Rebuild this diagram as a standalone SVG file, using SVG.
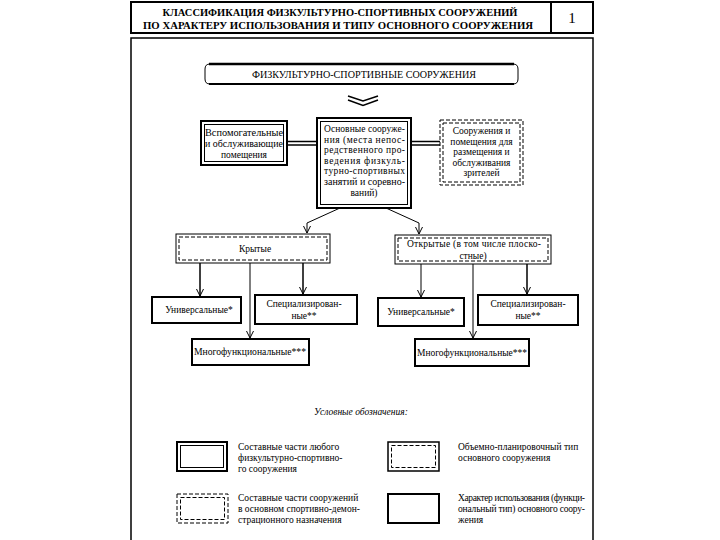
<svg xmlns="http://www.w3.org/2000/svg" width="720" height="540" viewBox="0 0 720 540">
<style>
.t{font-family:"Liberation Serif","Times New Roman",serif;font-size:9.5px;fill:#000}
.c{text-anchor:middle}
.b{font-weight:bold;font-size:10.5px}
.th{fill:none;stroke:#000;stroke-width:2}
.tn{fill:none;stroke:#000;stroke-width:1}
.md{fill:none;stroke:#000;stroke-width:1.5}
.d{stroke-dasharray:4 2}
</style>
<defs>
<marker id="ah" markerWidth="10" markerHeight="10" refX="8" refY="4" orient="auto" markerUnits="userSpaceOnUse">
<path d="M1,0.5 L8,4 L1,7.5" fill="none" stroke="#000" stroke-width="1"/>
</marker>
</defs>
<rect width="720" height="540" fill="#fff"/>

<g id="title">
<rect x="131" y="2" width="462" height="31" class="th"/>
<line x1="551" y1="2" x2="551" y2="33" class="th"/>
<text x="340" y="16" class="t c b" textLength="355" lengthAdjust="spacingAndGlyphs">КЛАССИФИКАЦИЯ ФИЗКУЛЬТУРНО-СПОРТИВНЫХ СООРУЖЕНИЙ</text>
<text x="338" y="29" class="t c b" textLength="390" lengthAdjust="spacingAndGlyphs">ПО ХАРАКТЕРУ ИСПОЛЬЗОВАНИЯ И ТИПУ ОСНОВНОГО СООРУЖЕНИЯ</text>
<text x="572" y="23" class="t c" style="font-size:15px">1</text>
</g>

<rect id="frame" x="131" y="38" width="462" height="510" class="md"/>

<g id="n-top">
<path d="M210,64 L513,64 Q518,64 518,69 L518,79 Q518,84 513,84 L210,84 Q205,84 205,79 L205,69 Q205,64 210,64 Z" class="tn"/>
<line x1="209" y1="64" x2="514" y2="64" stroke="#000" stroke-width="2.5"/>
<line x1="209" y1="84" x2="514" y2="84" stroke="#000" stroke-width="2"/>
<text x="364" y="77.5" class="t c" textLength="224" lengthAdjust="spacingAndGlyphs">ФИЗКУЛЬТУРНО-СПОРТИВНЫЕ СООРУЖЕНИЯ</text>
</g>

<g id="chevron">
<polyline points="348,96 363,101 378,96" class="md"/>
<polyline points="348,100 363,105.5 378,100" class="md"/>
</g>

<g id="n-aux">
<rect x="201" y="121" width="86" height="44" class="th"/>
<rect x="204.5" y="124.5" width="79" height="37" class="tn"/>
<text x="244" y="136" class="t c" textLength="78" lengthAdjust="spacingAndGlyphs">Вспомогательные</text>
<text x="244" y="147" class="t c" textLength="78" lengthAdjust="spacingAndGlyphs">и обслуживающие</text>
<text x="244" y="158" class="t c">помещения</text>
</g>

<g id="n-main">
<rect x="317" y="118" width="94" height="90" class="th"/>
<rect x="320.5" y="121.5" width="87" height="83" class="tn"/>
<text x="324" y="132" class="t" textLength="81" lengthAdjust="spacing">Основные сооруже-</text>
<text x="324" y="142.5" class="t" textLength="81" lengthAdjust="spacing">ния (места непос-</text>
<text x="324" y="153" class="t" textLength="81" lengthAdjust="spacing">редственного про-</text>
<text x="324" y="163.5" class="t" textLength="81" lengthAdjust="spacing">ведения физкуль-</text>
<text x="324" y="174" class="t" textLength="81" lengthAdjust="spacing">турно-спортивных</text>
<text x="324" y="184.5" class="t" textLength="81" lengthAdjust="spacingAndGlyphs">занятий и соревно-</text>
<text x="364" y="196" class="t c">ваний)</text>
</g>

<g id="n-spect">
<rect x="440" y="120" width="83" height="65" class="tn d" stroke-width="1.2"/>
<rect x="443" y="123" width="77" height="59" class="tn d" stroke-width="0.7"/>
<text x="481.5" y="134" class="t c">Сооружения и</text>
<text x="481.5" y="144.5" class="t c">помещения для</text>
<text x="481.5" y="155" class="t c">размещения и</text>
<text x="481.5" y="165.5" class="t c">обслуживания</text>
<text x="481.5" y="176" class="t c">зрителей</text>
</g>

<g id="n-covered">
<rect x="176" y="234" width="154" height="29" class="tn" stroke-width="1.2"/>
<rect x="179" y="237" width="148" height="23" class="tn d" stroke-width="0.8"/>
<text x="255" y="252" class="t c">Крытые</text>
</g>

<g id="n-open">
<rect x="395" y="235" width="156" height="29" class="tn" stroke-width="1.2"/>
<rect x="398" y="238" width="150" height="23" class="tn d" stroke-width="0.8"/>
<text x="474" y="247" class="t c" textLength="134" lengthAdjust="spacing">Открытые (в том числе плоско-</text>
<text x="473" y="259" class="t c">стные)</text>
</g>

<g id="n-univ-l">
<rect x="152" y="297" width="89" height="26" class="th"/>
<text x="199" y="313" class="t c">Универсальные*</text>
</g>
<g id="n-spec-l">
<rect x="255" y="295" width="102" height="29" class="th"/>
<text x="304" y="307" class="t c">Специализирован-</text>
<text x="304" y="319" class="t c">ные**</text>
</g>
<g id="n-multi-l">
<rect x="192" y="339" width="117" height="26" class="th"/>
<text x="250" y="355" class="t c" textLength="112" lengthAdjust="spacingAndGlyphs">Многофункциональные***</text>
</g>

<g id="n-univ-r">
<rect x="378" y="298" width="86" height="28" class="th"/>
<text x="421" y="315" class="t c">Универсальные*</text>
</g>
<g id="n-spec-r">
<rect x="478" y="295" width="100" height="30" class="th"/>
<text x="528" y="307" class="t c">Специализирован-</text>
<text x="528" y="319" class="t c">ные**</text>
</g>
<g id="n-multi-r">
<rect x="415" y="339" width="114" height="27" class="th"/>
<text x="472" y="356" class="t c" textLength="110" lengthAdjust="spacingAndGlyphs">Многофункциональные***</text>
</g>

<g id="connectors">
<line x1="287" y1="141.5" x2="317" y2="141.5" class="md"/>
<line x1="287" y1="145" x2="317" y2="145" class="md"/>
<line x1="411" y1="141.5" x2="440" y2="141.5" class="md"/>
<line x1="411" y1="145" x2="440" y2="145" class="md"/>
<polyline points="340,208 307,223 307,233" class="tn" marker-end="url(#ah)"/>
<polyline points="386,208 419,223 419,234" class="tn" marker-end="url(#ah)"/>
<line x1="200" y1="263" x2="200" y2="296" class="md" marker-end="url(#ah)"/>
<line x1="303" y1="263" x2="303" y2="294" class="md" marker-end="url(#ah)"/>
<line x1="250" y1="263" x2="250" y2="338" class="tn" marker-end="url(#ah)"/>
<line x1="421" y1="264" x2="421" y2="297" class="tn" marker-end="url(#ah)"/>
<line x1="527" y1="264" x2="527" y2="294" class="md" marker-end="url(#ah)"/>
<line x1="473" y1="264" x2="473" y2="338" class="tn" marker-end="url(#ah)"/>
</g>

<g id="legend">
<text x="361" y="415" class="t c" style="font-style:italic">Условные обозначения:</text>
<rect x="177" y="442" width="50" height="29" class="th"/>
<rect x="180.5" y="445.5" width="43" height="22" class="tn"/>
<text x="238" y="450" class="t">Составные части любого</text>
<text x="238" y="461" class="t">физкультурно-спортивно-</text>
<text x="238" y="472" class="t">го сооружения</text>

<rect x="388" y="442" width="51" height="29" class="md"/>
<rect x="391.5" y="445.5" width="44" height="22" class="tn d" stroke-width="0.8"/>
<text x="458" y="450" class="t">Объемно-планировочный тип</text>
<text x="458" y="461" class="t">основного сооружения</text>

<rect x="177" y="494" width="51" height="29" class="tn d" stroke-width="1.3"/>
<rect x="180.5" y="497.5" width="44" height="22" class="tn d" stroke-width="0.7"/>
<text x="238" y="501" class="t">Составные части сооружений</text>
<text x="238" y="512" class="t">в основном спортивно-демон-</text>
<text x="238" y="523" class="t">страционного назначения</text>

<rect x="388" y="494" width="51" height="29" class="th"/>
<text x="458" y="501" class="t" textLength="127" lengthAdjust="spacing">Характер использования (функци-</text>
<text x="458" y="512" class="t" textLength="127" lengthAdjust="spacing">ональный тип) основного соору-</text>
<text x="458" y="523" class="t">жения</text>
</g>
</svg>
